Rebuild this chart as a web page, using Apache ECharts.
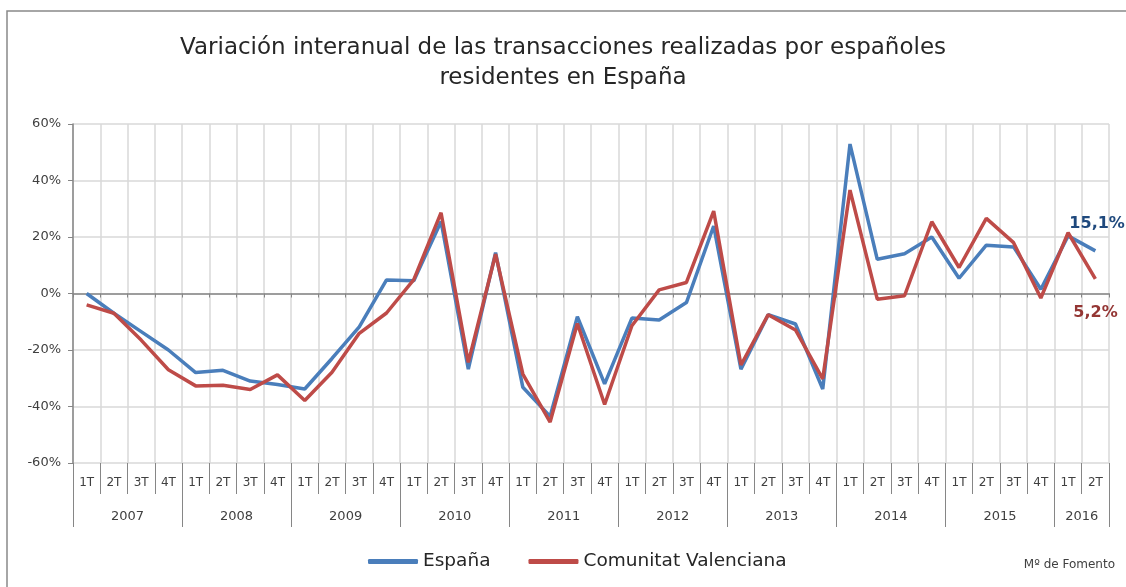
<!DOCTYPE html>
<html>
<head>
<meta charset="utf-8">
<script src="https://cdn.jsdelivr.net/npm/echarts@6/dist/echarts.min.js"></script>
<style>
  html, body { margin: 0; padding: 0; background: #fff; }
  #transacciones-chart { width: 1126px; height: 587px; }
</style>
</head>
<body>
<div id="transacciones-chart"></div>

<script type="application/javascript">

var years = ['2007', '2008', '2009', '2010', '2011', '2012', '2013', '2014', '2015', '2016'];
var quarters = [];
for (var y = 0; y < years.length; y++) {
	var n = years[y] === '2016' ? 2 : 4;
	for (var q = 1; q <= n; q++) quarters.push(q + 'T');
}

// variacion interanual (%)
var espana = [0, -7, -13.5, -20, -28, -27.2, -31, -32.2, -33.8, -23, -11.8, 4.8,
	4.5, 25.5, -26.8, 14.5, -33.2, -43.5, -8.2, -32, -8.7, -9.4, -3.2, 23.9,
	-26.8, -7.5, -10.8, -33.8, 52.9, 12.1, 14.1, 20, 5.4, 17.1, 16.5, 1.5, 20.4, 15.1];
var valencia = [-4, -7, -16.5, -27, -32.7, -32.5, -34, -28.8, -37.9, -27.9, -14.1, -6.9,
	4.9, 28.6, -24.4, 13.9, -28.5, -45.5, -10.6, -39.3, -11.4, 1.3, 3.9, 29.2,
	-25.3, -7.5, -12.9, -30.2, 36.6, -2, -0.8, 25.4, 9.2, 26.6, 18, -1.6, 21.5, 5.2];

// year row: half-quarter slots so the year name sits in the middle of its quarters
var yearSlots = [];
for (var i = 0; i <= quarters.length * 2; i++) yearSlots.push('');
var pos = 0;
for (var y = 0; y < years.length; y++) {
	var n = years[y] === '2016' ? 2 : 4;
	yearSlots[pos * 2 + n] = years[y];
	pos += n;
}

var fontFamily = 'DejaVu Sans';

var chartDom = document.getElementById('transacciones-chart');
var myChart = echarts.init(chartDom);
var option;

function pct(v) {
	return v.toFixed(1).replace('.', ',') + '%';
}

option = {
	animation: false,
	backgroundColor: '#fff',
	title: {
		text: 'Variación interanual de las transacciones realizadas por españoles\nresidentes en España',
		left: 'center',
		top: 28,
		textStyle: {
			fontFamily: fontFamily,
			fontWeight: 'normal',
			fontSize: 23,
			lineHeight: 30,
			color: '#262626'
		}
	},
	legend: {
		left: 363,
		top: 547,
		itemWidth: 50,
		itemHeight: 5,
		itemGap: 38,
		icon: 'roundRect',
		textStyle: { fontFamily: fontFamily, fontSize: 18.5, color: '#262626' },
		data: ['España', 'Comunitat Valenciana']
	},
	grid: {
		left: 73,
		right: 17,
		top: 124,
		bottom: 124
	},
	xAxis: [
		{
			type: 'category',
			data: quarters,
			position: 'bottom',
			boundaryGap: true,
			axisLine: { onZero: true, lineStyle: { color: '#868686', width: 1.5 } },
			axisTick: { show: true, interval: 0, length: 4, lineStyle: { color: '#868686' } },
			axisLabel: { show: false },
			splitLine: { show: true, interval: 0, lineStyle: { color: '#d9d9d9', width: 1.5 } }
		},
		{
			type: 'category',
			data: quarters,
			position: 'bottom',
			boundaryGap: true,
			axisLine: { onZero: false, show: false },
			axisTick: { show: true, interval: 0, length: 31, lineStyle: { color: '#868686' } },
			axisLabel: { interval: 0, margin: 14, fontFamily: fontFamily, fontSize: 12, color: '#404040' },
			splitLine: { show: false }
		},
		{
			type: 'category',
			data: yearSlots,
			position: 'bottom',
			boundaryGap: false,
			axisLine: { onZero: false, show: false },
			axisTick: {
				show: true,
				length: 64,
				lineStyle: { color: '#868686' },
				interval: function (index) {
					return index % 8 === 0 || index === yearSlots.length - 1;
				}
			},
			axisLabel: {
				margin: 47,
				fontFamily: fontFamily,
				fontSize: 13,
				color: '#404040',
				interval: function (index, value) {
					return value !== '';
				}
			},
			splitLine: { show: false }
		}
	],
	yAxis: {
		type: 'value',
		min: -60,
		max: 60,
		interval: 20,
		axisLine: { show: true, lineStyle: { color: '#868686', width: 1.5 } },
		axisTick: { show: true, length: 5, lineStyle: { color: '#868686' } },
		axisLabel: {
			margin: 12,
			fontFamily: fontFamily,
			fontSize: 13,
			color: '#404040',
			formatter: '{value}%'
		},
		splitLine: { lineStyle: { color: '#d9d9d9', width: 1.5 } }
	},
	series: [
		{
			name: 'España',
			type: 'line',
			xAxisIndex: 0,
			data: espana,
			symbol: 'none',
			color: '#4a7ebb',
			lineStyle: { width: 3.5, color: '#4a7ebb' },
			endLabel: {
				show: true,
				offset: [-34, -27],
				fontFamily: fontFamily,
				fontSize: 16,
				fontWeight: 'bold',
				color: '#1f497d',
				formatter: function (p) { return pct(p.value); }
			}
		},
		{
			name: 'Comunitat Valenciana',
			type: 'line',
			xAxisIndex: 0,
			data: valencia,
			symbol: 'none',
			color: '#be4b48',
			lineStyle: { width: 3.5, color: '#be4b48' },
			endLabel: {
				show: true,
				offset: [-30, 34],
				fontFamily: fontFamily,
				fontSize: 16,
				fontWeight: 'bold',
				color: '#943634',
				formatter: function (p) { return pct(p.value); }
			}
		}
	],
	graphic: [
		{
			type: 'rect',
			z: -1,
			shape: { x: 7, y: 11, width: 1200, height: 700 },
			style: { fill: 'none', stroke: '#898989', lineWidth: 1.5 }
		},
		{
			type: 'text',
			right: 11,
			top: 559,
			style: { text: 'Mº de Fomento', fontFamily: fontFamily, fontSize: 12, fill: '#404040' }
		}
	]
};

option && myChart.setOption(option);

</script>
</body>
</html>
